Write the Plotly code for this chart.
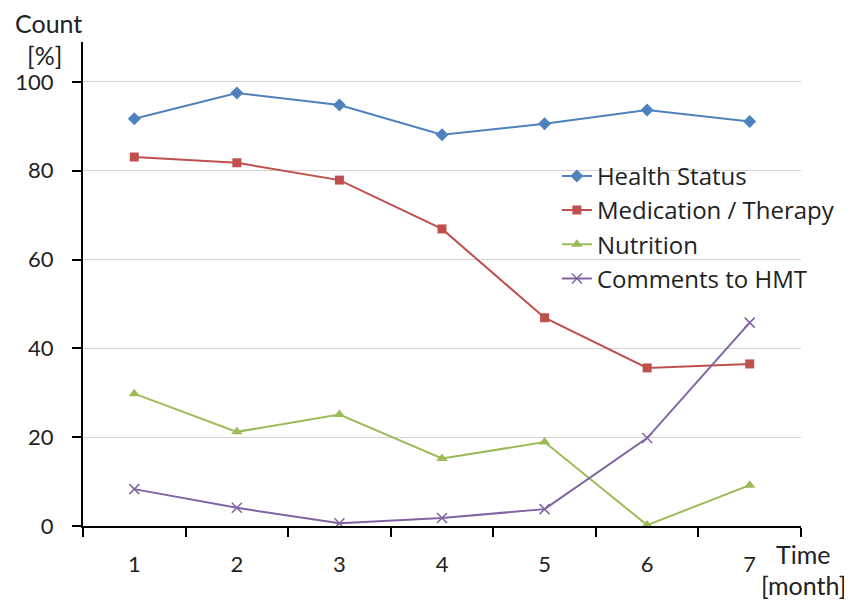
import plotly.graph_objects as go

# Données
months = ["1", "2", "3", "4", "5", "6", "7"]
health_status = [91.7, 97.5, 94.8, 88.1, 90.6, 93.7, 91.1]
medication = [83.1, 81.8, 77.9, 66.9, 46.9, 35.6, 36.5]
nutrition = [29.8, 21.2, 25.1, 15.2, 18.9, 0.2, 9.2]
comments = [8.3, 4.1, 0.6, 1.8, 3.8, 19.8, 45.8]

font = "Lato, Noto Sans, sans-serif"

fig = go.Figure()
fig.add_trace(go.Scatter(x=months, y=health_status, name="Health Status", mode="lines+markers",
                         line=dict(color="#4F81BD", width=2),
                         marker=dict(symbol="diamond", size=10, color="#4F81BD")))
fig.add_trace(go.Scatter(x=months, y=medication, name="Medication / Therapy", mode="lines+markers",
                         line=dict(color="#C0504D", width=2),
                         marker=dict(symbol="square", size=9, color="#C0504D")))
fig.add_trace(go.Scatter(x=months, y=nutrition, name="Nutrition", mode="lines+markers",
                         line=dict(color="#9BBB59", width=2),
                         marker=dict(symbol="triangle-up", size=10, color="#9BBB59")))
fig.add_trace(go.Scatter(x=months, y=comments, name="Comments to HMT", mode="lines+markers",
                         line=dict(color="#8064A2", width=2),
                         marker=dict(symbol="x-thin-open", size=10, color="#8064A2",
                                     line=dict(color="#8064A2", width=1.5))))

# la page a une marge de 8 px : figure réduite d'autant
fig.update_layout(
    width=844, height=598,
    margin=dict(l=75, r=51, t=34, b=80),
    plot_bgcolor="white", paper_bgcolor="white",
    font=dict(family=font, size=22, color="#222222"),
    showlegend=True,
    legend=dict(x=0.66, y=0.769, xanchor="left", yanchor="top",
                bgcolor="rgba(0,0,0,0)",
                font=dict(family="Open Sans, Noto Sans, sans-serif", size=24),
                tracegroupgap=0, itemwidth=30),
    xaxis=dict(type="category", tickson="boundaries", ticks="outside", ticklen=9,
               tickwidth=2, tickcolor="black", showline=True, linecolor="black",
               linewidth=2, showgrid=False, range=[-0.5, 6.5], automargin=False,
               ticklabelstandoff=18),
    yaxis=dict(range=[0, 109], tickvals=[0, 20, 40, 60, 80, 100], ticks="outside",
               ticklen=9, tickwidth=2, tickcolor="black", showline=True,
               linecolor="black", linewidth=2, gridcolor="#D4D4D4", gridwidth=1,
               zeroline=False, automargin=False, ticklabelstandoff=14),
)

# Titres d'axes placés en pixels de la page, convertis en coordonnées papier
pw, ph = 718, 484
def px2paper(x, y):
    return (x - 83) / pw, (526 - y) / ph

labels = [("Count", 48, 23), ("[%]", 44, 55), ("Time", 803, 554), ("[month]", 803, 585)]
for text, x, y in labels:
    px_, py_ = px2paper(x, y)
    fig.add_annotation(text=text, x=px_, y=py_, xref="paper", yref="paper",
                       showarrow=False, xanchor="center", yanchor="middle",
                       font=dict(size=25))

fig.write_html("out.html")
